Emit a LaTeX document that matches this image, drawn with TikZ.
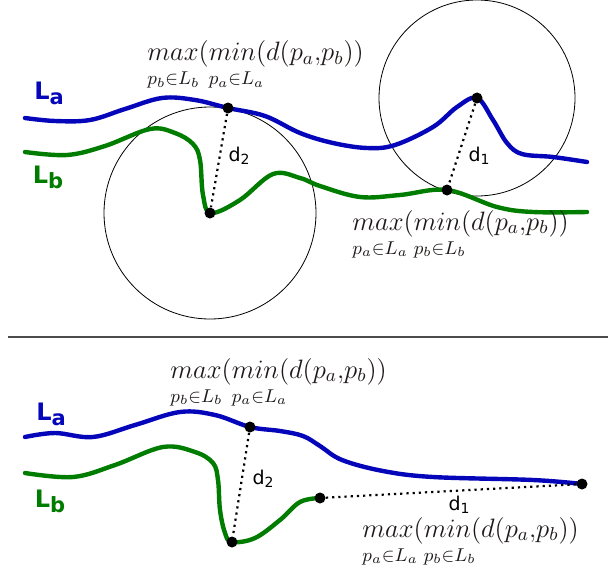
\RequirePackage{fix-cm}
\documentclass[tikz,border=0pt]{standalone}
\usepackage{amsmath,amssymb,mathtools}
\usepackage{fontspec}
\usepackage{tikz}
\usetikzlibrary{positioning,calc}

\newfontfamily\lblfont{DejaVu Sans}
\definecolor{lineA}{RGB}{5,5,185}
\definecolor{lineB}{RGB}{0,125,0}
\definecolor{mathcol}{RGB}{30,25,25}
% operator word with its range set flush left below it
\newcommand{\opsub}[2]{\mathord{\begin{array}[t]{@{}l@{}}#1\\[-3pt]\mathrlap{\scriptstyle #2}\end{array}}}
% Hausdorff style label: outer and inner set
\newcommand{\hdist}[2]{$\opsub{max}{p_{#1}\in L_{#1}}(\opsub{min}{p_{#2}\in L_{#2}}(d(p_a{,}p_b))$}
\newcommand{\lname}[2]{L\raisebox{-2.5pt}{\fontsize{10.5}{12}\selectfont #2}}
\newcommand{\dname}[1]{d\raisebox{-1.5pt}{\fontsize{7}{8}\selectfont #1}}

\begin{document}
\begin{tikzpicture}[x=0.5pt,y=-0.5pt,
  curveA/.style={lineA,line width=2.2pt,line cap=round},
  curveB/.style={lineB,line width=2.2pt,line cap=round},
  dotline/.style={dotted,line width=1.1pt},
  ptdot/.style={fill=black,circle,inner sep=0pt,minimum size=5.5pt},
  ring/.style={line width=0.4pt},
  setname/.style={font=\lblfont\bfseries\fontsize{12}{14}\selectfont,inner sep=0pt},
  dlabel/.style={font=\lblfont\fontsize{9.5}{11}\selectfont,inner sep=0pt},
  mathlbl/.style={text=mathcol,font=\fontsize{13.3}{15}\selectfont,inner sep=0pt,anchor=base west}]
  \useasboundingbox (0,0) rectangle (609,567);

  % ---- upper panel
  \draw[ring] (210,213) circle[radius=53pt];
  \draw[ring] (477,98) circle[radius=49pt];
  \draw[curveA] plot[smooth,tension=0.6] coordinates {(25,118) (55,121) (90,120) (125,109) (162,98) (195,100) (228,108) (265,116) (300,133) (333,143) (367,148) (395,145) (433,127) (457,107) (477,98) (493,120) (507,143) (522,154) (553,157) (587,162)};
  \draw[curveB] plot[smooth,tension=0.6] coordinates {(25,152) (67,155) (105,146) (150,129) (175,133) (193,144) (200,160) (203,195) (211,213) (240,200) (273,174) (300,178) (320,186) (360,197) (400,195) (447,190) (497,207) (533,212) (587,212)};
  \node[ptdot] (pa2) at (228,108) {};
  \node[ptdot] (pb2) at (210,213) {};
  \node[ptdot] (pa1) at (477,98) {};
  \node[ptdot] (pb1) at (447,190) {};
  \draw[dotline] (pa2) -- (pb2);
  \draw[dotline] (pa1) -- (pb1);
  \node[dlabel] (d2up) at (239,156) {\dname{2}};
  \node[dlabel] (d1up) at (479,156) {\dname{1}};
  \node[setname,lineA] (laup) at (49,93) {\lname{L}{a}};
  \node[setname,lineB] (lbup) at (48,177) {\lname{L}{b}};
  \node[mathlbl] (hbaup) at (147,61) {\hdist{b}{a}};
  \node[mathlbl] (habup) at (352,230) {\hdist{a}{b}};

  % ---- separator
  \draw[black!70,line width=0.8pt] (8,337) -- (608,337);

  % ---- lower panel
  \draw[curveA] plot[smooth,tension=0.6] coordinates {(25,437) (55,433) (93,437) (135,425) (180,412) (215,415) (250,427) (280,431) (303,436) (320,446) (342,460) (383,471) (433,477) (533,480) (582,484)};
  \draw[curveB] plot[smooth,tension=0.6] coordinates {(25,473) (73,477) (115,465) (163,447) (195,452) (213,463) (218,480) (220,510) (225,533) (232,542) (255,538) (280,520) (300,502) (320,498)};
  \node[ptdot] (qa2) at (250,427) {};
  \node[ptdot] (qb2) at (232,542) {};
  \node[ptdot] (qb1) at (320,498) {};
  \node[ptdot] (qa1) at (582,484) {};
  \draw[dotline] (qa2) -- (qb2);
  \draw[dotline] (qb1) -- (qa1);
  \node[dlabel] (d2lo) at (263,479) {\dname{2}};
  \node[dlabel] (d1lo) at (459,505) {\dname{1}};
  \node[setname,lineA] (lalo) at (51,414) {\lname{L}{a}};
  \node[setname,lineB] (lblo) at (50,501) {\lname{L}{b}};
  \node[mathlbl] (hbalo) at (170,378) {\hdist{b}{a}};
  \node[mathlbl] (hablo) at (362,537) {\hdist{a}{b}};
\end{tikzpicture}
\end{document}
